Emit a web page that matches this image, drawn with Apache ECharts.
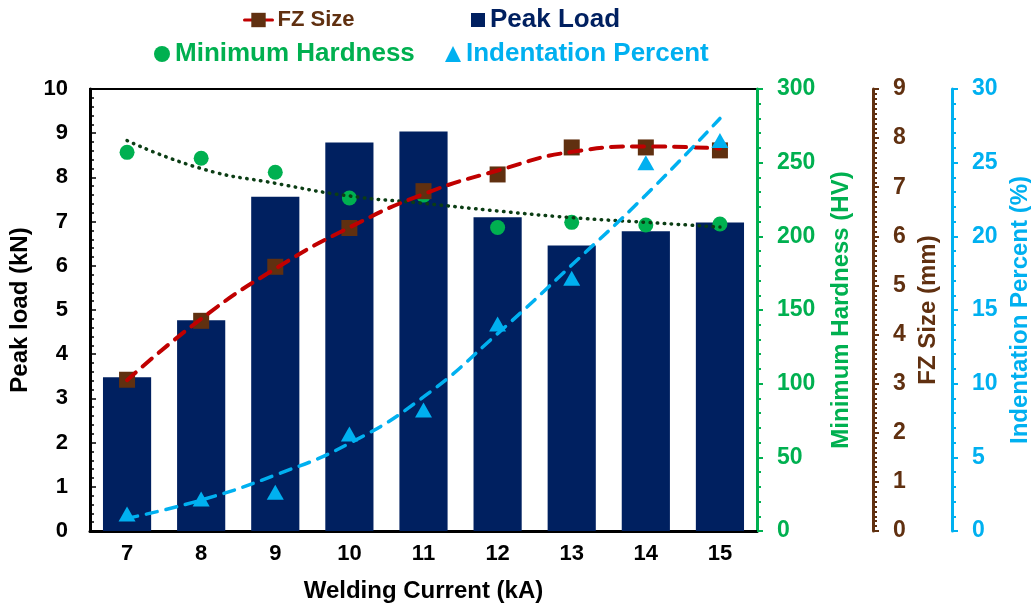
<!DOCTYPE html>
<html>
<head>
<meta charset="utf-8">
<script src="https://cdn.jsdelivr.net/npm/echarts@6/dist/echarts.min.js"></script>
<style>
  html, body { margin: 0; padding: 0; background: #ffffff; }
  #chart { width: 1031px; height: 604px; }
</style>
</head>
<body>
<div id="chart"></div>
<script>
// Welding current categories (kA)
const currents = ['7', '8', '9', '10', '11', '12', '13', '14', '15'];

// Peak load of the joints (kN)
const peakLoad = [3.48, 4.77, 7.56, 8.79, 9.04, 7.10, 6.46, 6.78, 6.98];

// Minimum hardness (HV) and its fitted trend
const hardness = [257, 253, 243.5, 226, 228, 206, 209.5, 207.7, 208.4];
const hardnessTrend = [265, 246, 236, 227.4, 222.4, 217.2, 212.7, 209.5, 206.3];

// Fusion zone size (mm) and its fitted trend
const fzSize = [3.08, 4.28, 5.38, 6.17, 6.92, 7.26, 7.81, 7.81, 7.75];
const fzTrend = [3.07, 4.32, 5.34, 6.18, 6.86, 7.34, 7.72, 7.83, 7.79];

// Indentation percent (%) and its fitted trend
const indentation = [1.15, 2.17, 2.63, 6.58, 8.21, 14.05, 17.15, 25.0, 26.5];
const indentationTrend = [0.86, 2.1, 3.8, 5.95, 9.1, 13.4, 18.05, 22.8, 28.0];

const FONT = "'Liberation Sans', Arial, sans-serif";
const C_BAR = '#002060';
const C_GREEN = '#00b050';
const C_DOT = '#0b3d14';
const C_BROWN = '#603010';
const C_RED = '#c00000';
const C_BLUE = '#00b0f0';

const chart = echarts.init(document.getElementById('chart'), null, { renderer: 'canvas' });

function rightAxis(opts) {
  return {
    type: 'value',
    position: 'right',
    offset: opts.offset,
    min: 0,
    max: opts.max,
    interval: opts.interval,
    name: opts.name,
    nameLocation: 'middle',
    nameRotate: 90,
    nameGap: opts.nameGap,
    nameTextStyle: { color: opts.color, fontFamily: FONT, fontWeight: 'bold', fontSize: 24 },
    axisLine: { show: true, lineStyle: { color: opts.color, width: 3 } },
    axisTick: { show: true, inside: false, length: 6, lineStyle: { color: opts.color, width: 2 } },
    minorTick: { show: true, splitNumber: opts.minor, length: 4, lineStyle: { color: opts.color, width: 2 } },
    axisLabel: { color: opts.color, fontFamily: FONT, fontWeight: 'bold', fontSize: 23, margin: 20 },
    splitLine: { show: false }
  };
}

const legendBase = {
  orient: 'horizontal',
  itemHeight: 14,
  itemWidth: 14,
  selectedMode: false,
  textStyle: { fontFamily: FONT, fontWeight: 'bold', fontSize: 26 }
};

const option = {
  backgroundColor: '#ffffff',
  animation: false,
  legend: [
    Object.assign({}, legendBase, {
      left: 238, top: 4, itemWidth: 28, itemHeight: 18,
      textStyle: { fontFamily: FONT, fontWeight: 'bold', fontSize: 22 },
      lineStyle: { type: 'solid', width: 3, color: C_RED },
      data: [{ name: 'FZ Size', textStyle: { color: C_BROWN } }]
    }),
    Object.assign({}, legendBase, {
      left: 466, top: 2,
      data: [{ name: 'Peak Load', icon: 'rect', textStyle: { color: C_BAR } }]
    }),
    Object.assign({}, legendBase, {
      left: 149, top: 36, itemHeight: 16, itemWidth: 16,
      data: [{ name: 'Minimum Hardness', textStyle: { color: C_GREEN } }]
    }),
    Object.assign({}, legendBase, {
      left: 440, top: 36, itemHeight: 16, itemWidth: 16,
      data: [{ name: 'Indentation Percent', textStyle: { color: C_BLUE } }]
    })
  ],
  grid: {
    left: 90, right: 274, top: 89, bottom: 73,
    outerBoundsMode: 'none',
    containLabel: false,
    show: true, borderColor: '#000000', borderWidth: 2, backgroundColor: 'transparent'
  },
  xAxis: {
    type: 'category',
    data: currents,
    boundaryGap: true,
    name: 'Welding Current (kA)',
    nameLocation: 'middle',
    nameGap: 48,
    nameTextStyle: { color: '#000000', fontFamily: FONT, fontWeight: 'bold', fontSize: 24 },
    axisLine: { show: true, lineStyle: { color: '#000000', width: 3 } },
    axisTick: { show: false },
    axisLabel: { color: '#000000', fontFamily: FONT, fontWeight: 'bold', fontSize: 22, margin: 12 },
    splitLine: { show: false }
  },
  yAxis: [
    {
      type: 'value',
      position: 'left',
      min: 0, max: 10, interval: 1,
      name: 'Peak load (kN)',
      nameLocation: 'middle',
      nameRotate: 90,
      nameGap: 54,
      nameTextStyle: { color: '#000000', fontFamily: FONT, fontWeight: 'bold', fontSize: 24 },
      axisLine: { show: true, lineStyle: { color: '#000000', width: 3 } },
      axisTick: { show: true, inside: true, length: 6, lineStyle: { color: '#000000', width: 1.5 } },
      minorTick: { show: true, splitNumber: 5, length: 4, lineStyle: { color: '#000000', width: 1.5 } },
      axisLabel: { color: '#000000', fontFamily: FONT, fontWeight: 'bold', fontSize: 22, margin: 22 },
      splitLine: { show: false }
    },
    rightAxis({ offset: 0, max: 300, interval: 50, minor: 5, color: C_GREEN, name: 'Minimum Hardness (HV)', nameGap: 72 }),
    rightAxis({ offset: 116, max: 9, interval: 1, minor: 10, color: C_BROWN, name: 'FZ Size (mm)', nameGap: 38 }),
    rightAxis({ offset: 195, max: 30, interval: 5, minor: 5, color: C_BLUE, name: 'Indentation Percent (%)', nameGap: 55 })
  ],
  series: [
    {
      name: 'Peak Load',
      type: 'bar',
      yAxisIndex: 0,
      data: peakLoad,
      barWidth: '65%',
      itemStyle: { color: C_BAR },
      z: 1
    },
    {
      name: 'Minimum Hardness',
      type: 'scatter',
      yAxisIndex: 1,
      data: hardness,
      symbol: 'circle',
      symbolSize: 15,
      itemStyle: { color: C_GREEN, opacity: 1 },
      z: 2
    },
    {
      name: 'Hardness trend',
      type: 'line',
      yAxisIndex: 1,
      data: hardnessTrend,
      smooth: true,
      showSymbol: false,
      symbol: 'none',
      lineStyle: { color: C_DOT, width: 3.5, type: [0.5, 6.5], cap: 'round' },
      z: 3
    },
    {
      name: 'FZ Size measured',
      type: 'scatter',
      yAxisIndex: 2,
      data: fzSize,
      symbol: 'rect',
      symbolSize: 16,
      itemStyle: { color: C_BROWN, opacity: 1 },
      z: 4
    },
    {
      name: 'FZ Size',
      type: 'line',
      yAxisIndex: 2,
      data: fzTrend,
      smooth: true,
      showSymbol: false,
      symbol: 'rect',
      itemStyle: { color: C_BROWN, opacity: 1 },
      lineStyle: { color: C_RED, width: 4, type: [12, 9], cap: 'round' },
      z: 5
    },
    {
      name: 'Indentation Percent',
      type: 'scatter',
      yAxisIndex: 3,
      data: indentation,
      symbol: 'triangle',
      symbolSize: [17, 15],
      itemStyle: { color: C_BLUE, opacity: 1 },
      z: 6
    },
    {
      name: 'Indentation trend',
      type: 'line',
      yAxisIndex: 3,
      data: indentationTrend,
      smooth: true,
      showSymbol: false,
      symbol: 'none',
      lineStyle: { color: C_BLUE, width: 3.5, type: [11, 9], cap: 'round' },
      z: 7
    }
  ]
};

chart.setOption(option);
</script>
</body>
</html>
